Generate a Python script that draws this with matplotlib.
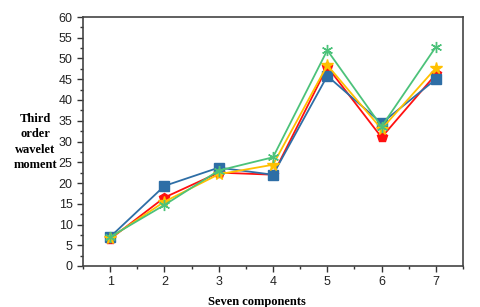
import matplotlib.pyplot as plt
from matplotlib.ticker import MultipleLocator

components = [1, 2, 3, 4, 5, 6, 7]
blue_vals = [7.0, 19.3, 23.7, 22.0, 45.8, 34.4, 45.0]
red_vals = [6.5, 16.5, 22.5, 22.0, 48.0, 31.0, 46.2]
yellow_vals = [6.8, 15.5, 22.1, 24.4, 48.4, 33.0, 47.7]
green_vals = [7.0, 14.7, 23.0, 26.2, 52.0, 33.6, 52.8]

fig = plt.figure(figsize=(4.8, 3.07), dpi=100)
ax = fig.add_axes([83 / 480, 1 - 266 / 307, 380 / 480, 249 / 307])

ax.plot(components, red_vals, color='#ff1010', marker='p', markersize=7.5, lw=1.3)
ax.plot(components, blue_vals, color='#2e6ea6', marker='s', markersize=6.5, lw=1.3)
ax.plot(components, yellow_vals, color='#ffc000', marker='*', markersize=8.5, lw=1.3)
ax.plot(components, green_vals, color='#4cc27a', marker=(6, 2, 0), markersize=8,
        markeredgewidth=1.0, lw=1.3)

ax.set_xlim(0.5, 7.5)
ax.set_ylim(0, 60)
ax.xaxis.set_major_locator(MultipleLocator(1))
ax.xaxis.set_minor_locator(MultipleLocator(0.5))
ax.yaxis.set_major_locator(MultipleLocator(5))
ax.yaxis.set_minor_locator(MultipleLocator(2.5))
ax.tick_params(which='both', direction='out', top=False, right=False,
               color='#333333', labelsize=9, labelcolor='#222222')
ax.tick_params(which='major', length=4, width=1)
ax.tick_params(which='minor', length=2.5, width=1)
for lab in ax.get_xticklabels() + ax.get_yticklabels():
    lab.set_fontfamily('Liberation Sans')
for sp in ax.spines.values():
    sp.set_color('#444444')
    sp.set_linewidth(1.2)

ax.set_xlabel('Seven components', fontfamily='Liberation Serif',
              fontweight='bold', fontsize=9)
ax.xaxis.set_label_coords((257 - 83) / 380, -0.12)
fig.text(35 / 480, 1 - 142 / 307, 'Third\norder\nwavelet\nmoment', ha='center',
         va='center', fontfamily='Liberation Serif', fontweight='bold',
         fontsize=9, linespacing=1.35)

plt.savefig('out.png', dpi=100)
